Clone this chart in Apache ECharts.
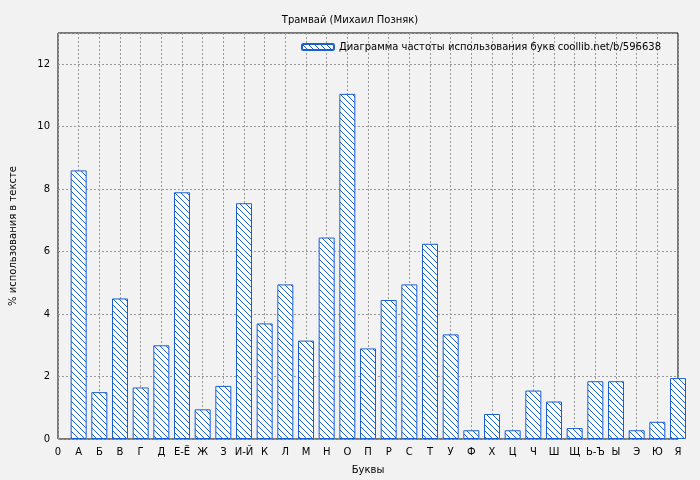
<!DOCTYPE html>
<html><head><meta charset="utf-8">
<script src="https://cdn.jsdelivr.net/npm/echarts@6/dist/echarts.min.js"></script>
<style>html,body{margin:0;background:#f2f2f2}#c{width:700px;height:480px}</style>
</head><body><div id="c"></div>
<script>
const tickLabels = ["0","А","Б","В","Г","Д","Е-Ё","Ж","З","И-Й","К","Л","М","Н","О","П","Р","С","Т","У","Ф","Х","Ц","Ч","Ш","Щ","Ь-Ъ","Ы","Э","Ю","Я"];
const values = [8.6,1.5,4.5,1.65,3.0,7.9,0.95,1.7,7.55,3.7,4.95,3.15,6.45,11.05,2.9,4.45,4.95,6.25,3.35,0.28,0.8,0.28,1.55,1.2,0.35,1.85,1.85,0.28,0.55,1.95];
const seriesName = "Диаграмма частоты использования букв coollib.net/b/596638";

const cv = document.createElement('canvas'); cv.width = 6; cv.height = 6;
const g = cv.getContext('2d');
g.fillStyle = '#ffffff'; g.fillRect(0,0,6,6);
g.strokeStyle = '#1a5fd0'; g.lineWidth = 1;
g.beginPath(); g.moveTo(0,0); g.lineTo(6,6); g.moveTo(-3,3); g.lineTo(3,9); g.moveTo(3,-3); g.lineTo(9,3); g.stroke();
const pat = {image: cv, repeat: 'repeat'};

const chart = echarts.init(document.getElementById('c'));
chart.setOption({
  backgroundColor: '#f2f2f2',
  animation: false,
  title: {text: 'Трамвай (Михаил Позняк)', left: 'center', top: 10,
    textStyle: {fontSize: 10, fontWeight: 'normal', color: '#000', fontFamily: 'DejaVu Sans'}},
  legend: {top: 37, right: 34, itemWidth: 32, itemHeight: 6, itemGap: 6,
    textStyle: {fontSize: 10, color: '#000', fontFamily: 'DejaVu Sans'}, data: [seriesName]},
  grid: {left: 53, right: 22, top: 33, bottom: 40, show: true, borderColor: '#000', borderWidth: 1, backgroundColor: '#f2f2f2'},
  xAxis: {type: 'value', min: 0, max: 30, interval: 1, name: 'Буквы', nameLocation: 'middle', nameGap: 26,
    nameTextStyle: {fontSize: 10, color: '#000', fontFamily: 'DejaVu Sans'},
    axisLine: {show: false}, axisTick: {show: false},
    axisLabel: {fontSize: 10, color: '#000', fontFamily: 'DejaVu Sans', formatter: v => tickLabels[v] || ''},
    splitLine: {show: true, lineStyle: {type: [2,2], color: '#999'}}},
  yAxis: {type: 'value', min: 0, max: 13, interval: 2, name: '% использования в тексте', nameLocation: 'middle', nameGap: 40,
    nameTextStyle: {fontSize: 10, color: '#000', fontFamily: 'DejaVu Sans'},
    axisLine: {show: false}, axisTick: {show: false},
    axisLabel: {fontSize: 10, color: '#000', fontFamily: 'DejaVu Sans', formatter: v => v % 2 === 0 ? String(v) : ''},
    splitLine: {show: true, lineStyle: {type: [2,2], color: '#999'}}},
  series: [{name: seriesName, type: 'bar', barWidth: 16, clip: true,
    data: values.map((v,i) => [i+1, v]),
    itemStyle: {color: pat, borderColor: '#1a5fd0', borderWidth: 1}}]
});
</script></body></html>
